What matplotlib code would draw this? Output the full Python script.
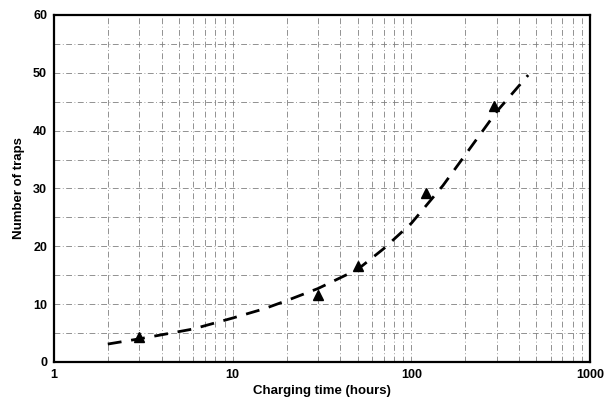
import matplotlib
matplotlib.use("Agg")
import matplotlib.pyplot as plt
from matplotlib.ticker import FixedLocator, LogLocator, NullFormatter

# measured points (triangles)
charge_hours = [3, 30, 50, 120, 290]
trap_count = [4.4, 11.5, 16.6, 29.3, 44.2]

# dashed fit curve
fit_hours = [2, 3, 4, 6, 10, 15, 20, 30, 50, 70, 100, 150, 200, 300, 450]
fit_traps = [3.1, 4.0, 4.7, 5.7, 7.6, 9.2, 10.6, 12.7, 16.0, 19.6, 24.0, 30.5, 35.8, 43.3, 49.6]

x_ticks = [1, 10, 100, 1000]
x_ticklabels = ["1", "10", "100", "1000"]
y_ticks = [0, 10, 20, 30, 40, 50, 60]

plt.rcParams["font.family"] = ["Liberation Sans", "DejaVu Sans"]
plt.rcParams["font.weight"] = "bold"

fig = plt.figure(figsize=(6.10, 4.04), dpi=100)
ax = fig.add_axes([0.0885, 0.104, 0.879, 0.859])

ax.set_xscale("log")
ax.set_xlim(1, 1000)
ax.set_ylim(0, 60)

ax.xaxis.set_major_locator(FixedLocator(x_ticks))
ax.set_xticklabels(x_ticklabels)
ax.xaxis.set_minor_locator(LogLocator(base=10, subs=range(2, 10)))
ax.xaxis.set_minor_formatter(NullFormatter())
ax.yaxis.set_major_locator(FixedLocator(y_ticks))
ax.yaxis.set_minor_locator(FixedLocator([5, 15, 25, 35, 45, 55]))

grid_style = dict(color="#808080", linewidth=0.6, linestyle=(0, (7, 3, 1, 3)))
ax.grid(True, which="major", **grid_style)
ax.grid(True, which="minor", **grid_style)
ax.set_axisbelow(True)

ax.plot(fit_hours, fit_traps, color="black", linewidth=2.0,
        linestyle=(0, (5, 3.5)), zorder=3)
ax.plot(charge_hours, trap_count, linestyle="none", marker="^",
        markersize=7, color="black", zorder=4)

for side in ax.spines.values():
    side.set_linewidth(1.6)

ax.tick_params(which="both", direction="in", length=0, labelsize=9, pad=5)
ax.set_xlabel("Charging time (hours)", fontsize=9.5, fontweight="bold", labelpad=3)
ax.set_ylabel("Number of traps", fontsize=9.5, fontweight="bold", labelpad=6)

fig.savefig("out.png", dpi=100)
plt.close(fig)
